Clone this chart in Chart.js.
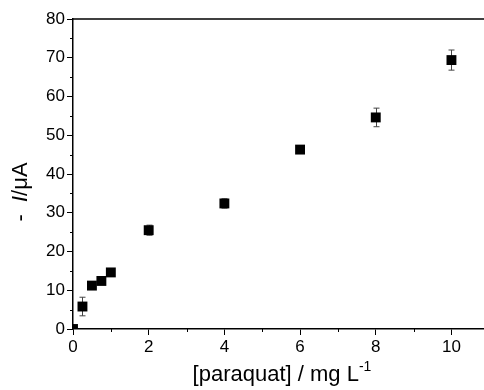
<!DOCTYPE html>
<html>
<head>
<meta charset="utf-8">
<script src="https://cdn.jsdelivr.net/npm/chart.js@4/dist/chart.umd.min.js"></script>
<style>
  html, body { margin: 0; padding: 0; background: #fff; }
  #wrap { width: 484px; height: 390px; }
</style>
</head>
<body>
<div id="wrap"><canvas id="chart" width="484" height="390"></canvas></div>
<script>
// paraquat concentration (mg/L) vs current (uA)
const conc = [0, 0.25, 0.5, 0.75, 1, 2, 4, 6, 8, 10];
const current = [0, 5.8, 11.2, 12.4, 14.6, 25.5, 32.4, 46.3, 54.6, 69.4];
const errors = [0, 2.4, 0.6, 0.5, 0.5, 1.3, 1.2, 0.5, 2.4, 2.6];
const xTicks = [0, 2, 4, 6, 8, 10];
const yTicks = [0, 10, 20, 30, 40, 50, 60, 70, 80];

const FONT = '"Liberation Sans", Arial, sans-serif';

let points = conc.map((x, i) => ({ x: x, y: current[i] }));

// draws text pieces [text, font, dy] in a row centred on cx
let drawRow = (ctx, parts, cx, y) => {
    let total = 0;
    parts.forEach(p => { ctx.font = p[1]; total += ctx.measureText(p[0]).width; });
    let x = cx - total / 2;
    parts.forEach(p => {
        ctx.font = p[1];
        ctx.fillText(p[0], x, y + p[2]);
        x += ctx.measureText(p[0]).width;
    });
}

// error bars, minor ticks, top frame line and axis titles
let extras = {
    id: 'extras',
    beforeDatasetsDraw(chart) {
        let ctx = chart.ctx;
        let xs = chart.scales.x, ys = chart.scales.y;
        ctx.save();
        ctx.strokeStyle = '#444';
        ctx.lineWidth = 1;
        errors.forEach((e, i) => {
            if (!e) return;
            let px = Math.round(xs.getPixelForValue(conc[i])) + 0.5;
            let top = ys.getPixelForValue(current[i] + e);
            let bot = ys.getPixelForValue(current[i] - e);
            ctx.beginPath();
            ctx.moveTo(px, top); ctx.lineTo(px, bot);
            ctx.moveTo(px - 3, top); ctx.lineTo(px + 3, top);
            ctx.moveTo(px - 3, bot); ctx.lineTo(px + 3, bot);
            ctx.stroke();
        });
        ctx.restore();
    },
    afterDraw(chart) {
        let ctx = chart.ctx;
        let xs = chart.scales.x, ys = chart.scales.y;
        let area = chart.chartArea;
        ctx.save();
        ctx.strokeStyle = '#000';
        ctx.lineWidth = 1;
        ctx.beginPath();
        for (let v = 1; v < xs.max; v += 2) {
            let px = Math.round(xs.getPixelForValue(v)) + 0.5;
            ctx.moveTo(px, area.bottom); ctx.lineTo(px, area.bottom + 3);
        }
        for (let v = 5; v < ys.max; v += 10) {
            let py = Math.round(ys.getPixelForValue(v)) + 0.5;
            ctx.moveTo(area.left, py); ctx.lineTo(area.left - 3, py);
        }
        ctx.stroke();
        ctx.lineWidth = 1.5;
        ctx.beginPath();
        ctx.moveTo(area.left, area.top); ctx.lineTo(chart.width, area.top);
        ctx.stroke();

        ctx.fillStyle = '#000';
        ctx.textBaseline = 'alphabetic';
        // x title with superscript
        drawRow(ctx, [
            ['[paraquat] / mg L', '22px ' + FONT, 0],
            ['-1', '14px ' + FONT, -10]
        ], 282, 381);

        // y title: "- I/μA" with italic I
        ctx.translate(27, 192);
        ctx.rotate(-Math.PI / 2);
        drawRow(ctx, [
            ['-  ', '22px ' + FONT, 0],
            ['I', 'italic 22px ' + FONT, 0],
            ['/\u03bcA', '22px ' + FONT, 0]
        ], 0, 0);
        ctx.restore();
    }
};

let chart = new Chart(document.querySelector('#chart').getContext('2d'), {
    type: 'scatter',
    data: {
        datasets: [{
            data: points,
            pointStyle: 'rect',
            pointRadius: 7,
            pointHoverRadius: 7,
            backgroundColor: '#000',
            borderColor: '#000',
            borderWidth: 0,
            clip: 0
        }]
    },
    options: {
        responsive: false,
        animation: false,
        events: [],
        layout: { autoPadding: false, padding: { left: 0, top: 19, right: 0, bottom: 0 } },
        plugins: { legend: { display: false }, tooltip: { enabled: false } },
        scales: {
            x: {
                type: 'linear',
                min: 0,
                max: 10.86,
                afterBuildTicks: (s) => { s.ticks = xTicks.map(v => ({ value: v })); },
                afterFit: (s) => { s.height = 61; s.paddingRight = 0; s.paddingLeft = 0; },
                grid: { drawOnChartArea: false, drawTicks: true, tickLength: 6, tickColor: '#000', tickWidth: 1 },
                border: { display: true, color: '#000', width: 1.5 },
                ticks: { color: '#000', font: { family: FONT, size: 17 }, padding: 2, maxRotation: 0 }
            },
            y: {
                type: 'linear',
                min: 0,
                max: 80,
                afterBuildTicks: (s) => { s.ticks = yTicks.map(v => ({ value: v })); },
                afterFit: (s) => { s.width = 73; s.paddingTop = 0; s.paddingBottom = 0; },
                grid: { drawOnChartArea: false, drawTicks: true, tickLength: 6, tickColor: '#000', tickWidth: 1 },
                border: { display: true, color: '#000', width: 1.5 },
                ticks: { color: '#000', font: { family: FONT, size: 17 }, padding: 2 }
            }
        }
    },
    plugins: [extras]
});
</script>
</body>
</html>
